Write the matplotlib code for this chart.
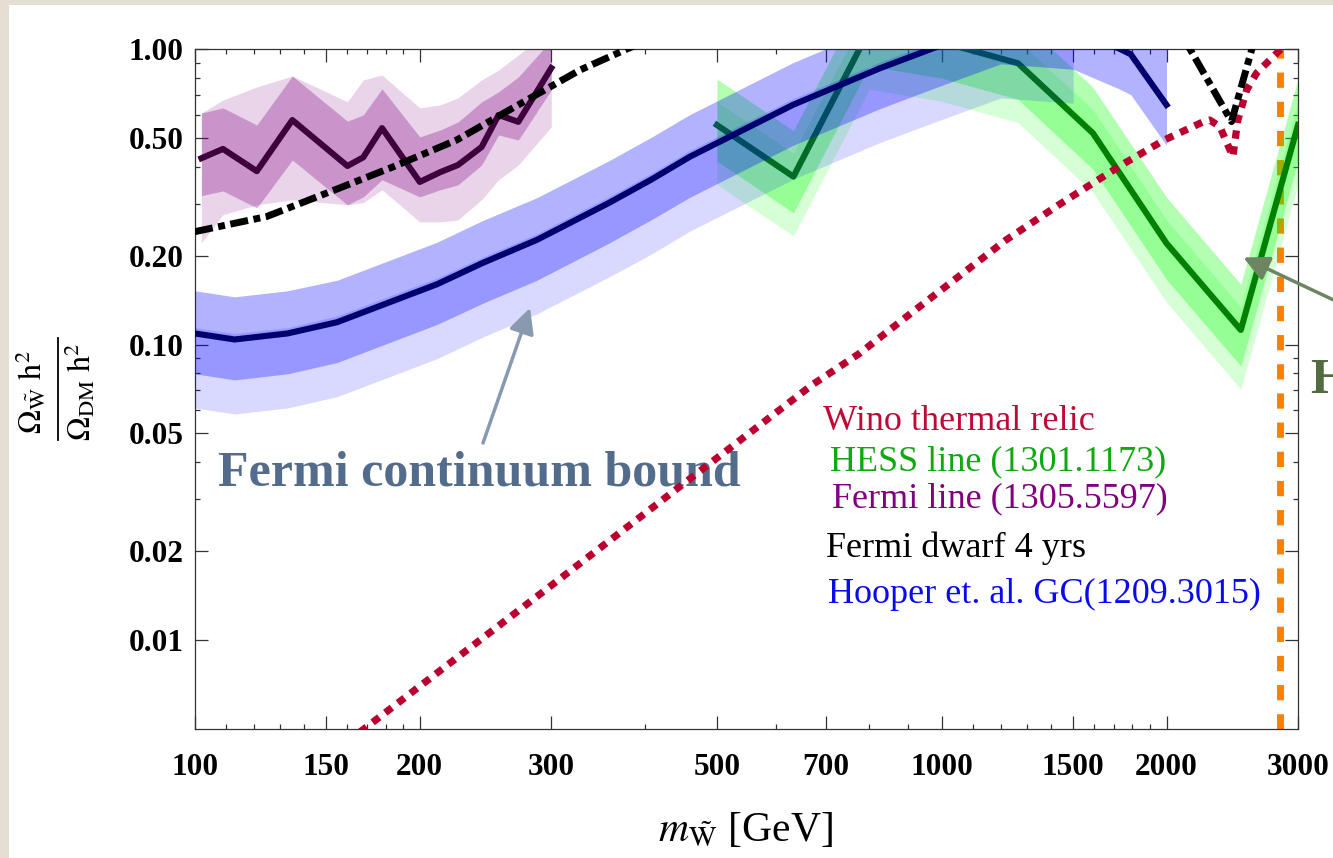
import matplotlib
matplotlib.use('Agg')
import matplotlib.pyplot as plt
from matplotlib.patches import Rectangle
from matplotlib.lines import Line2D
from matplotlib.ticker import NullFormatter

plt.rcParams['font.family'] = ['Liberation Serif', 'DejaVu Serif']
plt.rcParams['mathtext.fontset'] = 'stix'

# --- Fermi line (1305.5597): linha central e duas bandas ---
m_fermi = [102, 109, 121, 135, 160, 168, 178, 200, 213, 225, 242, 255, 271, 300]
fermi_c = [0.427, 0.459, 0.386, 0.575, 0.402, 0.430, 0.540, 0.355, 0.383, 0.405, 0.466, 0.598, 0.567, 0.862]
fermi_a_lo = [0.319, 0.331, 0.290, 0.421, 0.297, 0.316, 0.361, 0.316, 0.334, 0.347, 0.405, 0.512, 0.492, 0.727]
fermi_a_hi = [0.607, 0.632, 0.553, 0.810, 0.570, 0.598, 0.733, 0.504, 0.532, 0.566, 0.662, 0.716, 0.804, 1.07]
fermi_b_lo = [0.221, 0.275, 0.297, 0.309, 0.297, 0.302, 0.334, 0.260, 0.260, 0.264, 0.309, 0.361, 0.405, 0.545]
fermi_b_hi = [0.607, 0.672, 0.744, 0.810, 0.663, 0.786, 0.817, 0.632, 0.647, 0.683, 0.786, 0.849, 0.954, 1.16]

# --- HESS line (1301.1173) ---
m_hess = [500, 633, 800, 1000, 1265, 1594, 2000, 2515, 3000]
hess_c = [0.553, 0.370, 1.16, 1.055, 0.895, 0.519, 0.220, 0.112, 0.553]
hess_a_lo = [0.418, 0.279, 0.876, 0.797, 0.676, 0.392, 0.166, 0.0846, 0.418]
hess_a_hi = [0.791, 0.529, 1.66, 1.51, 1.28, 0.742, 0.315, 0.160, 0.791]
hess_b_lo = [0.348, 0.233, 0.731, 0.665, 0.564, 0.327, 0.139, 0.0706, 0.348]
hess_b_hi = [0.664, 0.444, 1.39, 1.27, 1.07, 0.623, 0.264, 0.134, 0.664]

# --- Hooper et al. GC (1209.3015) ---
m_gc = [100, 113, 133, 155, 211, 243, 287, 358, 408, 460, 632, 826, 973, 1200, 1500, 1726, 1791, 2000]
gc_c = [0.109, 0.104, 0.109, 0.119, 0.160, 0.189, 0.226, 0.301, 0.361, 0.432, 0.647, 0.860, 1.005,
        1.22, 1.17, 1.005, 0.960, 0.647]
gc_a_lo = [0.0796, 0.0759, 0.0796, 0.0869, 0.117, 0.138, 0.165, 0.220, 0.264, 0.315, 0.472, 0.628,
           0.734, 0.891, 0.854, 0.734, 0.701, 0.472]
gc_a_hi = [0.152, 0.145, 0.152, 0.165, 0.222, 0.263, 0.314, 0.418, 0.502, 0.600, 0.899, 1.195,
           1.397, 1.70, 1.63, 1.40, 1.33, 1.00]
m_gc_b = [100, 113, 133, 155, 211, 243, 287, 358, 408, 460, 632, 826, 973, 1200, 1500]
gc_b_lo = [0.0610, 0.0582, 0.0610, 0.0666, 0.0896, 0.106, 0.127, 0.169, 0.202, 0.242, 0.362, 0.482,
           0.563, 0.683, 0.655]
gc_b_hi = [0.114, 0.109, 0.114, 0.125, 0.168, 0.198, 0.237, 0.316, 0.379, 0.454, 0.679, 0.903,
           1.055, 1.28, 1.23]

# --- Fermi dwarf 4 yrs ---
m_dwarf = [100, 124.7, 156.4, 184.1, 224.1, 266.6, 327.8, 378.8, 500, 1000, 1700, 2000, 2150, 2444, 2608, 2800]
dwarf = [0.241, 0.271, 0.339, 0.399, 0.492, 0.632, 0.849, 1.0, 1.35, 2.5, 2.0, 1.35, 1.0, 0.568, 1.02, 1.5]

# --- Wino thermal relic ---
m_relic = [160, 300, 500, 671, 777, 910, 1054, 1220, 1429, 1555, 1758, 1986, 2243, 2285, 2358,
           2454, 2492, 2561, 2640, 2837, 3000]
relic = [0.00453, 0.0153, 0.0413, 0.0731, 0.0935, 0.1277, 0.170, 0.226, 0.295, 0.338, 0.411, 0.492,
         0.568, 0.575, 0.546, 0.432, 0.575, 0.727, 0.829, 0.992, 1.15]

m_thermal = 2840  # massa do wino térmico (linha laranja)

x_major = [100, 150, 200, 300, 500, 700, 1000, 1500, 2000, 3000]
x_minor = [110, 120, 130, 140, 160, 170, 180, 190, 400, 600, 800, 900,
           1100, 1200, 1300, 1400, 1600, 1700, 1800, 1900]
y_major = [0.01, 0.02, 0.05, 0.10, 0.20, 0.50, 1.00]
y_minor = [0.03, 0.04, 0.06, 0.07, 0.08, 0.09, 0.3, 0.4, 0.6, 0.7, 0.8, 0.9]

# --- Figura ---
W, H = 1333, 858
fig = plt.figure(figsize=(W / 100, H / 100), dpi=100)
fig.patch.set_facecolor('#e4dfd2')
fig.add_artist(Rectangle((9 / W, 0), 1, 1 - 5 / H, transform=fig.transFigure,
                         facecolor='white', edgecolor='none', zorder=-10))

ax = fig.add_axes([195 / W, 129 / H, 1103 / W, 680 / H])
ax.set_xscale('log')
ax.set_yscale('log')
ax.set_xlim(100, 3000)
ax.set_ylim(0.005, 1.0)

# linha laranja (massa térmica)
ax.axvline(m_thermal, color='#ff8000', lw=5, dashes=(2.2, 2.0), zorder=1)

# Fermi line
ax.fill_between(m_fermi, fermi_b_lo, fermi_b_hi, color='#800080', alpha=0.17, lw=0, zorder=2)
ax.fill_between(m_fermi, fermi_a_lo, fermi_a_hi, color='#800080', alpha=0.3, lw=0, zorder=2)
ax.plot(m_fermi, fermi_c, color='#3d003d', lw=4.4, zorder=3)

# HESS line
ax.fill_between(m_hess, hess_b_lo, hess_b_hi, color='#00ff00', alpha=0.16, lw=0, zorder=2)
ax.fill_between(m_hess, hess_a_lo, hess_a_hi, color='#00ff00', alpha=0.3, lw=0, zorder=2)
ax.plot(m_hess, hess_c, color='#008000', lw=4.4, zorder=3)

# Hooper GC
ax.fill_between(m_gc_b, gc_b_lo, gc_b_hi, color='#0000ff', alpha=0.15, lw=0, zorder=4)
ax.fill_between(m_gc, gc_a_lo, gc_a_hi, color='#0000ff', alpha=0.3, lw=0, zorder=4)
ax.plot(m_gc, gc_c, color='#00006e', lw=4.4, zorder=5)

# relíquia térmica e dwarfs
ax.plot(m_relic, relic, color='#bb0030', lw=5.2, dashes=(1.15, 1.05), zorder=6)
ax.plot(m_dwarf, dwarf, color='black', lw=5.0, dashes=(2.6, 0.8, 1.0, 0.8), zorder=7)

# --- Eixos e ticks ---
ax.set_xticks(x_major)
ax.set_xticklabels([str(v) for v in x_major], fontsize=22.5, fontweight='bold')
ax.set_xticks(x_minor, minor=True)
ax.set_yticks(y_major)
ax.set_yticklabels([f'{v:.2f}' for v in y_major], fontsize=22.5, fontweight='bold')
ax.set_yticks(y_minor, minor=True)
ax.xaxis.set_minor_formatter(NullFormatter())
ax.yaxis.set_minor_formatter(NullFormatter())
ax.tick_params(which='both', direction='in', top=True, right=True, colors='#333333', width=0.9)
ax.tick_params(which='major', length=9.5)
ax.tick_params(which='minor', length=3.5)
ax.tick_params(axis='x', which='major', pad=17, labelcolor='black')
ax.tick_params(axis='y', which='major', pad=8, labelcolor='black')
for s in ax.spines.values():
    s.set_color('#333333')
    s.set_linewidth(0.9)

fig.text(746 / W, 1 - 841 / H, r'$m_{\tilde{\mathrm{W}}}$ [GeV]', fontsize=30,
         ha='center', va='baseline')

# rótulo do eixo y como fração (numerador, traço, denominador)
fig.text(31 / W, 1 - 392 / H, r'$\Omega_{\tilde{\mathrm{W}}}\ \mathrm{h}^{2}$',
         fontsize=23, rotation=90, ha='center', va='center')
fig.text(80 / W, 1 - 392 / H, r'$\Omega_{\mathrm{DM}}\ \mathrm{h}^{2}$',
         fontsize=23, rotation=90, ha='center', va='center')
fig.add_artist(Line2D([58 / W, 58 / W], [1 - 338 / H, 1 - 440 / H], color='black', lw=1.3,
                      transform=fig.transFigure))

# legenda em texto
legenda = [
    ('Wino thermal relic', '#bd0a36', 823, 430),
    ('HESS line (1301.1173)', '#10a810', 830, 470),
    ('Fermi line (1305.5597)', '#800080', 832, 507),
    ('Fermi dwarf 4 yrs', 'black', 826, 557),
    ('Hooper et. al. GC(1209.3015)', '#0a0af0', 828, 603),
]
for txt, cor, px, py in legenda:
    ax.text(px / W, 1 - py / H, txt, color=cor, fontsize=26, ha='left', va='baseline',
            transform=fig.transFigure, zorder=3)

# anotações
ax.text(218 / W, 1 - 485 / H, 'Fermi continuum bound', color='#546c8c', fontsize=36,
        fontweight='bold', ha='left', va='baseline', transform=fig.transFigure, zorder=3)
ax.annotate('', xy=(281, 0.133), xycoords='data',
            xytext=(483 / W, 1 - 443 / H), textcoords='figure fraction',
            arrowprops=dict(arrowstyle='-|>,head_length=0.7,head_width=0.35', color='#8899b0',
                            lw=2.5, mutation_scale=22, shrinkA=0, shrinkB=0),
            annotation_clip=False, zorder=8)

ax.text(1311 / W, 1 - 392 / H, 'HESS line bound', color='#536b40', fontsize=36,
        fontweight='bold', ha='left', va='baseline', transform=fig.transFigure, zorder=3)
ax.annotate('', xy=(2535, 0.197), xycoords='data',
            xytext=(1.01, 1 - 306 / H), textcoords='figure fraction',
            arrowprops=dict(arrowstyle='-|>,head_length=0.7,head_width=0.35', color='#6d8563',
                            lw=2.5, mutation_scale=22, shrinkA=0, shrinkB=0),
            annotation_clip=False, zorder=8)

fig.savefig('out.png', dpi=100)
